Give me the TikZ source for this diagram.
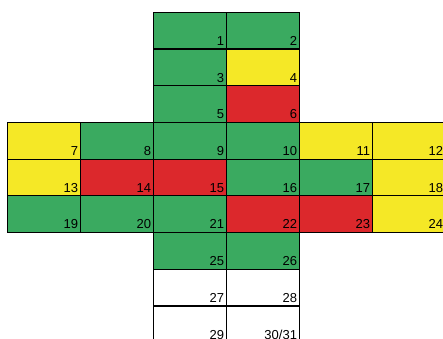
\documentclass[tikz,border=0pt]{standalone}
\usepackage{fontspec}
\setmainfont{Liberation Sans}
\usetikzlibrary{positioning}
\definecolor{cubegreen}{RGB}{58,170,96}
\definecolor{cubeyellow}{RGB}{245,232,38}
\definecolor{cubered}{RGB}{220,40,44}
\begin{document}
\begin{tikzpicture}[x=1pt, y=1pt, node distance=0pt,
  face/.style={draw, line width=1.2pt, minimum width=73pt, minimum height=36.7pt, inner sep=0pt, outer sep=0pt},
  num/.style={anchor=base east, inner sep=0pt, xshift=-2.6pt, yshift=3.6pt, font=\fontsize{13}{15}\selectfont}]
\useasboundingbox (0,0) rectangle (443,-338);
\clip (0,0) rectangle (443,-338);
\node[face, fill=cubegreen, anchor=north west, label={[num]south east:1}] (1) at (153.8,-12.3) {};
\node[face, fill=cubegreen, right=of 1, label={[num]south east:2}] (2) {};
\node[face, fill=cubegreen, below=of 1, label={[num]south east:3}] (3) {};
\node[face, fill=cubeyellow, right=of 3, label={[num]south east:4}] (4) {};
\node[face, fill=cubegreen, below=of 3, label={[num]south east:5}] (5) {};
\node[face, fill=cubered, right=of 5, label={[num]south east:6}] (6) {};
\node[face, fill=cubegreen, below=of 5, label={[num]south east:9}] (9) {};
\node[face, fill=cubegreen, left=of 9, label={[num]south east:8}] (8) {};
\node[face, fill=cubeyellow, left=of 8, label={[num]south east:7}] (7) {};
\node[face, fill=cubegreen, right=of 9, label={[num]south east:10}] (10) {};
\node[face, fill=cubeyellow, right=of 10, label={[num]south east:11}] (11) {};
\node[face, fill=cubeyellow, right=of 11, label={[num]south east:12}] (12) {};
\node[face, fill=cubeyellow, below=of 7, label={[num]south east:13}] (13) {};
\node[face, fill=cubered, below=of 8, label={[num]south east:14}] (14) {};
\node[face, fill=cubered, below=of 9, label={[num]south east:15}] (15) {};
\node[face, fill=cubegreen, below=of 10, label={[num]south east:16}] (16) {};
\node[face, fill=cubegreen, below=of 11, label={[num]south east:17}] (17) {};
\node[face, fill=cubeyellow, below=of 12, label={[num]south east:18}] (18) {};
\node[face, fill=cubegreen, below=of 13, label={[num]south east:19}] (19) {};
\node[face, fill=cubegreen, below=of 14, label={[num]south east:20}] (20) {};
\node[face, fill=cubegreen, below=of 15, label={[num]south east:21}] (21) {};
\node[face, fill=cubered, below=of 16, label={[num]south east:22}] (22) {};
\node[face, fill=cubered, below=of 17, label={[num]south east:23}] (23) {};
\node[face, fill=cubeyellow, below=of 18, label={[num]south east:24}] (24) {};
\node[face, fill=cubegreen, below=of 21, label={[num]south east:25}] (25) {};
\node[face, fill=cubegreen, below=of 22, label={[num]south east:26}] (26) {};
\node[face, fill=white, below=of 25, label={[num]south east:27}] (27) {};
\node[face, fill=white, below=of 26, label={[num]south east:28}] (28) {};
\node[face, fill=white, below=of 27, label={[num]south east:29}] (29) {};
\node[face, fill=white, below=of 28, label={[num]south east:30/31}] (30) {};
\end{tikzpicture}
\end{document}
